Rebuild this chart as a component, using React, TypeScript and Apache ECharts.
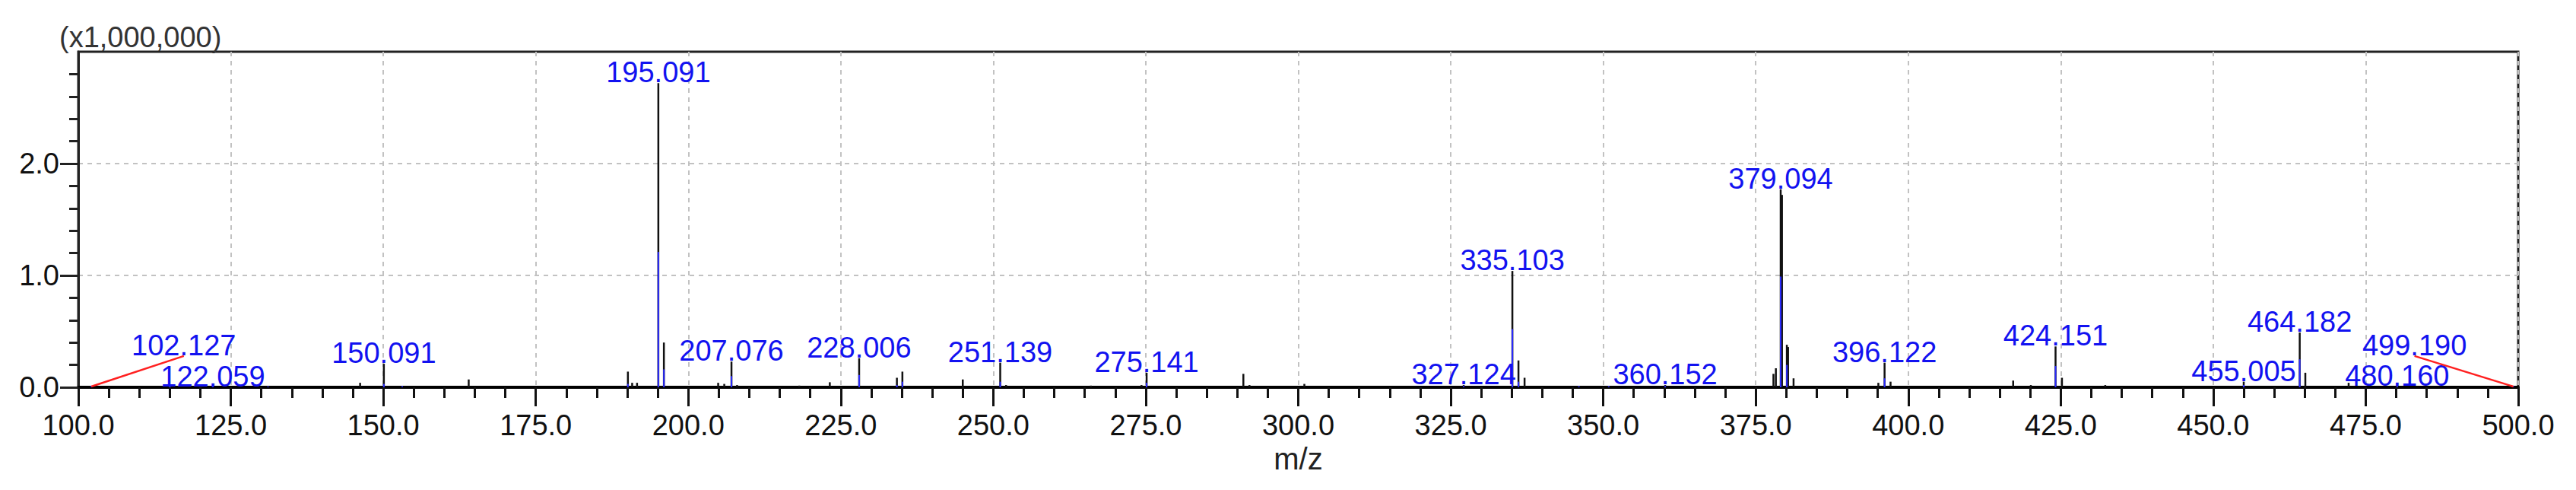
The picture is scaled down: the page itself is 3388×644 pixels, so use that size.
import React, { useEffect, useRef } from 'react';
import * as echarts from 'echarts';

// ---- data (intensity in units of 1,000,000) ----
const BLACK_MZ = [146.2, 150.09, 164.0, 190.1, 190.8, 191.6, 195.09, 196.0, 204.9, 205.9, 207.08, 208.0, 218.2, 223.2, 228.01, 234.2, 235.1, 245.0, 251.14, 252.1, 266.0, 274.3, 275.14, 291.0, 292.0, 301.0, 327.12, 335.1, 336.1, 337.1, 360.15, 377.9, 378.3, 379.09, 379.3, 380.1, 380.3, 381.2, 395.1, 396.12, 397.1, 417.2, 420.1, 424.15, 425.2, 432.3, 455.0, 464.18, 465.1, 472.2, 480.16, 499.19];
const BLACK_INT = [0.04, 0.21, 0.07, 0.14, 0.04, 0.04, 2.72, 0.40, 0.04, 0.03, 0.23, 0.02, 0.015, 0.045, 0.26, 0.085, 0.14, 0.07, 0.22, 0.02, 0.015, 0.02, 0.13, 0.12, 0.02, 0.03, 0.02, 1.04, 0.24, 0.085, 0.02, 0.12, 0.17, 1.77, 1.72, 0.38, 0.36, 0.08, 0.04, 0.22, 0.05, 0.06, 0.02, 0.365, 0.085, 0.02, 0.05, 0.49, 0.13, 0.04, 0.01, 0.005];

const BLUE_MZ = [102.13, 115.0, 122.06, 131.1, 150.09, 153.1, 190.1, 195.09, 196.0, 207.08, 228.01, 234.2, 235.1, 251.14, 275.14, 327.12, 335.1, 336.1, 346.0, 350.9, 360.15, 379.09, 380.1, 396.12, 424.15, 455.0, 464.18, 480.16, 499.19];
const BLUE_INT = [0.012, 0.008, 0.012, 0.008, 0.03, 0.01, 0.03, 1.21, 0.16, 0.10, 0.11, 0.02, 0.05, 0.05, 0.04, 0.012, 0.52, 0.05, 0.01, 0.01, 0.012, 0.99, 0.20, 0.08, 0.19, 0.02, 0.25, 0.012, 0.01];

const PEAK_LABELS = ['102.127', '122.059', '150.091', '195.091', '207.076', '228.006', '251.139', '275.141', '327.124', '335.103', '360.152', '379.094', '396.122', '424.151', '455.005', '464.182', '480.160', '499.190'];

const X_MIN = 100;
const X_MAX = 500;
const X_STEP = 25;
const Y_MIN = 0;
const Y_MAX = 3;
const Y_STEP = 1;
const Y_LABEL_VALUES = [0, 1, 2];
const SCALE_TEXT = '(x1,000,000)';

// layout of the two displaced labels (drawn with a red leader line)
const LABEL_SHIFT: Record<string, { mz: number; y: number }> = {
  '102.127': { mz: 117.3, y: 0.28 },
  '499.190': { mz: 483.0, y: 0.28 },
};

const FONT = '"Liberation Sans", Arial, sans-serif';
const LABEL_BLUE = '#1212f0';

function anchorIntensity(mz: number): number {
  let best = 0;
  BLACK_MZ.forEach((m, i) => {
    if (Math.abs(m - mz) <= 0.35 && BLACK_INT[i] > best) best = BLACK_INT[i];
  });
  return best;
}

function stickRenderer(color: string, width: number) {
  return (params: any, api: any) => {
    const x = api.value(0);
    const y = api.value(1);
    const base = api.coord([x, 0]);
    const top = api.coord([x, y]);
    return {
      type: 'line',
      shape: { x1: base[0], y1: base[1], x2: top[0], y2: top[1] },
      style: { stroke: color, lineWidth: width },
    };
  };
}

function labelRenderer(params: any, api: any) {
  const text = PEAK_LABELS[params.dataIndex];
  const mz = api.value(0);
  const h = api.value(1);
  const textStyle = {
    text,
    fill: LABEL_BLUE,
    fontSize: 38,
    fontFamily: FONT,
    align: 'center',
    verticalAlign: 'bottom',
  };
  const shift = LABEL_SHIFT[text];
  if (!shift) {
    const p = api.coord([mz, h]);
    return { type: 'text', x: p[0], y: p[1] + 5, style: textStyle };
  }
  const p = api.coord([shift.mz, shift.y]);
  const base = api.coord([mz, 0]);
  return {
    type: 'group',
    children: [
      {
        type: 'line',
        shape: { x1: p[0], y1: p[1], x2: base[0], y2: base[1] - 1 },
        style: { stroke: '#ff2020', lineWidth: 2.5 },
      },
      { type: 'text', x: p[0], y: p[1] + 5, style: textStyle },
    ],
  };
}

const dashed = { color: '#c2c2c2', width: 2, type: [6, 6] as number[] };

const option: any = {
  animation: false,
  backgroundColor: '#ffffff',
  grid: {
    left: 103,
    right: 76,
    top: 68,
    bottom: 135,
    show: true,
    borderColor: '#222',
    borderWidth: 3,
    backgroundColor: 'transparent',
    containLabel: false,
    outerBoundsMode: 'none',
  },
  xAxis: {
    type: 'value',
    min: X_MIN,
    max: X_MAX,
    interval: X_STEP,
    name: 'm/z',
    nameLocation: 'middle',
    nameGap: 66,
    nameTextStyle: { fontSize: 40, fontFamily: FONT, color: '#222' },
    axisLine: { show: true, onZero: false, lineStyle: { color: '#000', width: 4 } },
    axisTick: { show: true, length: 25, lineStyle: { color: '#111', width: 3 } },
    minorTick: { show: true, splitNumber: 5, length: 14, lineStyle: { color: '#111', width: 3 } },
    axisLabel: {
      margin: 31,
      fontSize: 38,
      lineHeight: 38,
      fontFamily: FONT,
      color: '#111',
      formatter: (v: number) => v.toFixed(1),
    },
    splitLine: { show: true, lineStyle: dashed },
    minorSplitLine: { show: false },
  },
  yAxis: {
    type: 'value',
    min: Y_MIN,
    max: Y_MAX,
    interval: Y_STEP,
    axisLine: { show: true, lineStyle: { color: '#222', width: 3 } },
    axisTick: { show: true, length: 24, customValues: Y_LABEL_VALUES, lineStyle: { color: '#222', width: 3 } },
    minorTick: { show: true, splitNumber: 5, length: 12, lineStyle: { color: '#222', width: 3 } },
    axisLabel: {
      margin: 25,
      fontSize: 38,
      fontFamily: FONT,
      color: '#111',
      customValues: Y_LABEL_VALUES,
      formatter: (v: number) => (v >= Y_MAX ? '' : v.toFixed(1)),
    },
    splitLine: { show: true, lineStyle: dashed },
  },
  graphic: [
    {
      type: 'text',
      left: 78,
      top: 30,
      style: { text: SCALE_TEXT, fontSize: 38, fontFamily: FONT, fill: '#333' },
    },
  ],
  series: [
    {
      type: 'custom',
      name: 'spectrum',
      renderItem: stickRenderer('#111111', 2.5),
      encode: { x: 0, y: 1 },
      data: BLACK_MZ.map((m, i) => [m, BLACK_INT[i]]),
      z: 2,
    },
    {
      type: 'custom',
      name: 'centroid',
      renderItem: stickRenderer('#2a2aff', 2),
      encode: { x: 0, y: 1 },
      data: BLUE_MZ.map((m, i) => [m, BLUE_INT[i]]),
      z: 3,
    },
    {
      type: 'custom',
      name: 'labels',
      renderItem: labelRenderer,
      encode: { x: 0, y: 1 },
      clip: false,
      data: PEAK_LABELS.map((t) => [parseFloat(t), anchorIntensity(parseFloat(t))]),
      z: 4,
    },
  ],
};

export default function App() {
  const ref = useRef<HTMLDivElement>(null);
  useEffect(() => {
    if (!ref.current) return;
    const chart = echarts.init(ref.current, null, { renderer: 'svg' });
    chart.setOption(option);
    return () => chart.dispose();
  }, []);
  return (
    <div
      ref={ref}
      style={{ position: 'fixed', left: 0, top: 0, width: 3388, height: 644, background: '#fff' }}
    />
  );
}
